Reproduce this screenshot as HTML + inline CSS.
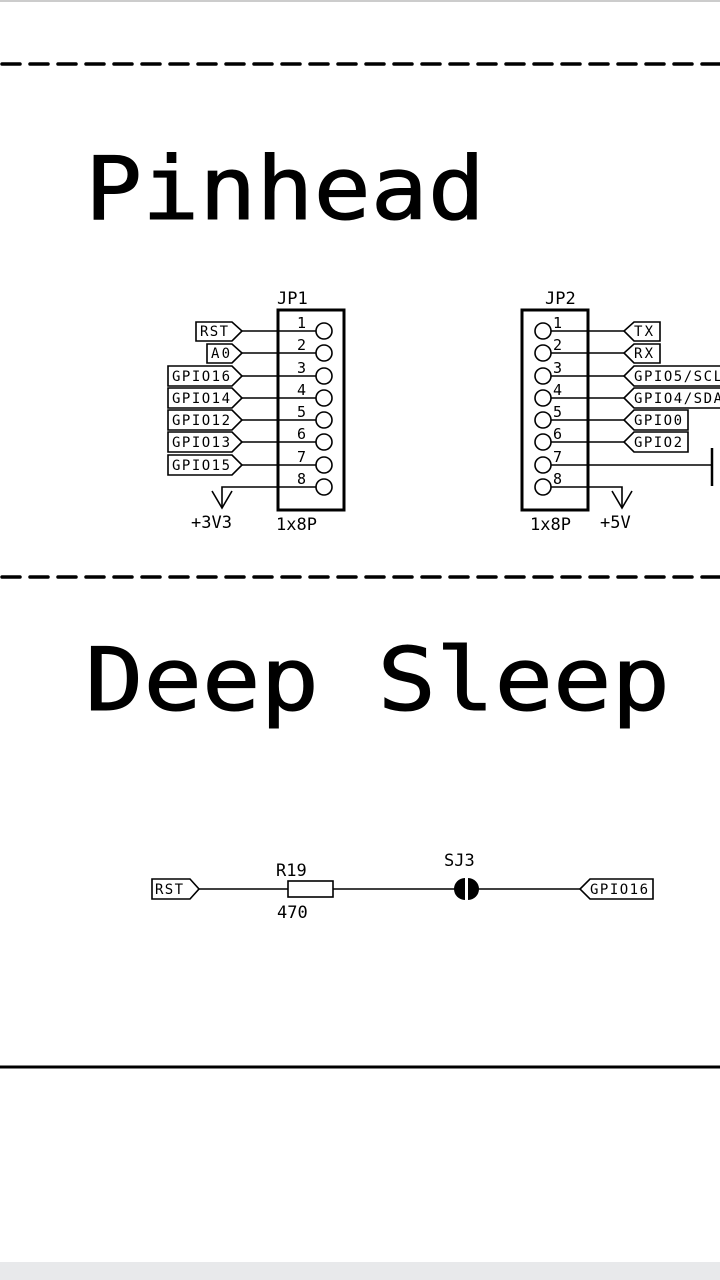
<!DOCTYPE html>
<html><head><meta charset="utf-8"><style>
html,body{margin:0;padding:0;background:#fff;}
svg{display:block;}
text{font-family:"DejaVu Sans Mono","Liberation Mono",monospace;fill:#000;}
</style></head><body>
<svg width="720" height="1280" viewBox="0 0 720 1280" xmlns="http://www.w3.org/2000/svg">
<rect x="0" y="0" width="720" height="1280" fill="#fff"/>
<rect x="0" y="0" width="720" height="2" fill="#ccc"/>
<rect x="0" y="1262" width="720" height="18" fill="#e8e9eb"/>
<g stroke="#000" stroke-width="3.5" stroke-linecap="round" stroke-dasharray="18 10">
<line x1="2" y1="64" x2="720" y2="64"/>
<line x1="2" y1="577" x2="720" y2="577"/>
</g>
<line x1="0" y1="1067" x2="720" y2="1067" stroke="#000" stroke-width="3"/>
<text x="85" y="219" font-size="87" stroke="#000" stroke-width="1" textLength="400" lengthAdjust="spacingAndGlyphs">Pinhead</text>
<text x="85" y="710" font-size="87" stroke="#000" stroke-width="1" textLength="585" lengthAdjust="spacingAndGlyphs">Deep Sleep</text>

<g fill="none" stroke="#000" stroke-width="1.6">
<rect x="278" y="310" width="66" height="200" stroke-width="3"/>
<circle cx="324" cy="331" r="8"/><circle cx="324" cy="353" r="8"/><circle cx="324" cy="376" r="8"/><circle cx="324" cy="398" r="8"/>
<circle cx="324" cy="420" r="8"/><circle cx="324" cy="442" r="8"/><circle cx="324" cy="465" r="8"/><circle cx="324" cy="487" r="8"/>
<line x1="242" y1="331" x2="316" y2="331"/><line x1="242" y1="353" x2="316" y2="353"/>
<line x1="242" y1="376" x2="316" y2="376"/><line x1="242" y1="398" x2="316" y2="398"/>
<line x1="242" y1="420" x2="316" y2="420"/><line x1="242" y1="442" x2="316" y2="442"/>
<line x1="242" y1="465" x2="316" y2="465"/>
<polyline points="316,487 222,487 222,508"/>
<polyline points="212,491 222,508 232,491"/>
<path d="M196 322 H232 L242 331 L232 341 H196 Z"/>
<path d="M207 344 H232 L242 353 L232 363 H207 Z"/>
<path d="M168 366 H232 L242 376 L232 386 H168 Z"/>
<path d="M168 388 H232 L242 398 L232 408 H168 Z"/>
<path d="M168 410 H232 L242 420 L232 430 H168 Z"/>
<path d="M168 432 H232 L242 442 L232 452 H168 Z"/>
<path d="M168 455 H232 L242 465 L232 475 H168 Z"/>
<rect x="522" y="310" width="66" height="200" stroke-width="3"/>
<circle cx="543" cy="331" r="8"/><circle cx="543" cy="353" r="8"/><circle cx="543" cy="376" r="8"/><circle cx="543" cy="398" r="8"/>
<circle cx="543" cy="420" r="8"/><circle cx="543" cy="442" r="8"/><circle cx="543" cy="465" r="8"/><circle cx="543" cy="487" r="8"/>
<line x1="551" y1="331" x2="624" y2="331"/><line x1="551" y1="353" x2="624" y2="353"/>
<line x1="551" y1="376" x2="624" y2="376"/><line x1="551" y1="398" x2="624" y2="398"/>
<line x1="551" y1="420" x2="624" y2="420"/><line x1="551" y1="442" x2="624" y2="442"/>
<line x1="551" y1="465" x2="712" y2="465"/>
<line x1="712" y1="448" x2="712" y2="486" stroke-width="2.5"/>
<polyline points="551,487 622,487 622,508"/>
<polyline points="612,491 622,508 632,491"/>
<path d="M660 322 H634 L624 331 L634 341 H660 Z"/>
<path d="M660 344 H634 L624 353 L634 363 H660 Z"/>
<path d="M722 366 H634 L624 376 L634 386 H722"/>
<path d="M722 388 H634 L624 398 L634 408 H722"/>
<path d="M688 410 H634 L624 420 L634 430 H688 Z"/>
<path d="M688 432 H634 L624 442 L634 452 H688 Z"/>
<path d="M152 879 H190 L199 889 L190 899 H152 Z"/>
<line x1="199" y1="889" x2="288" y2="889"/>
<rect x="288" y="881" width="45" height="16"/>
<line x1="333" y1="889" x2="455" y2="889"/>
<line x1="478" y1="889" x2="580" y2="889"/>
<path d="M653 879 H590 L580 889 L590 899 H653 Z"/>
</g>
<path d="M465 878 A11 11 0 0 0 465 900 Z" fill="#000"/>
<path d="M468 878 A11 11 0 0 1 468 900 Z" fill="#000"/>

<g font-size="17">
<text x="277" y="304">JP1</text>
<text x="545" y="304">JP2</text>
<text x="276" y="530">1x8P</text>
<text x="530" y="530">1x8P</text>
<text x="191" y="528">+3V3</text>
<text x="600" y="528">+5V</text>
<text x="276" y="876">R19</text>
<text x="277" y="918">470</text>
<text x="444" y="866">SJ3</text>
</g>
<g font-size="15">
<text x="297" y="328">1</text><text x="297" y="350">2</text><text x="297" y="373">3</text><text x="297" y="395">4</text>
<text x="297" y="417">5</text><text x="297" y="439">6</text><text x="297" y="462">7</text><text x="297" y="484">8</text>
<text x="553" y="328">1</text><text x="553" y="350">2</text><text x="553" y="373">3</text><text x="553" y="395">4</text>
<text x="553" y="417">5</text><text x="553" y="439">6</text><text x="553" y="462">7</text><text x="553" y="484">8</text>
</g>
<g font-size="14">
<text x="200" y="336" textLength="28">RST</text>
<text x="211" y="358" textLength="19">A0</text>
<text x="172" y="381" textLength="58">GPIO16</text>
<text x="172" y="403" textLength="58">GPIO14</text>
<text x="172" y="425" textLength="58">GPIO12</text>
<text x="172" y="447" textLength="58">GPIO13</text>
<text x="172" y="470" textLength="58">GPIO15</text>
<text x="634" y="336" textLength="19">TX</text>
<text x="634" y="358" textLength="19">RX</text>
<text x="634" y="381" textLength="88">GPIO5/SCL</text>
<text x="634" y="403" textLength="88">GPIO4/SDA</text>
<text x="634" y="425" textLength="48">GPIO0</text>
<text x="634" y="447" textLength="48">GPIO2</text>
<text x="155" y="894" textLength="28">RST</text>
<text x="590" y="894" textLength="58">GPIO16</text>
</g>
</svg>
</body></html>
